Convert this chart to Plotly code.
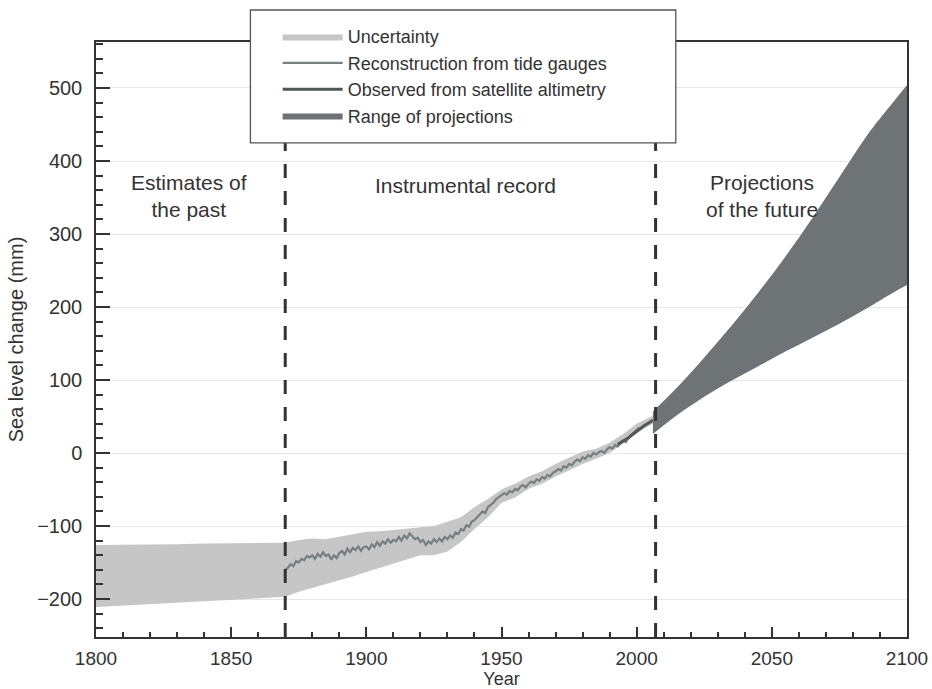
import plotly.graph_objects as go

# ---------------- data ----------------
band_years = [1800, 1810, 1820, 1830, 1840, 1850, 1860, 1870, 1875, 1880, 1885, 1890, 1895,
              1900, 1905, 1910, 1915, 1920, 1925, 1930, 1935, 1940, 1945, 1950, 1955, 1960,
              1965, 1970, 1975, 1980, 1985, 1990, 1995, 2000, 2006]
band_upper = [-126, -126, -125, -125, -124, -124, -124, -123, -119, -117, -118, -115, -112,
              -108, -107, -105, -104, -101, -100, -94, -88, -74, -63, -50, -42, -32,
              -25, -15, -7, 2, 6, 14, 26, 40, 51]
band_lower = [-211, -209, -207, -205, -203, -201, -199, -197, -190, -185, -180, -174, -169,
              -163, -157, -151, -146, -140, -140, -135, -122, -104, -88, -68, -61, -49,
              -42, -32, -24, -15, -8, 0, 13, 28, 40]

tide_years = list(range(1870, 2002))
tide_values = [
    -160, -157, -152, -155, -148, -150, -145, -147, -141, -143,
    -140, -145, -138, -142, -136, -141, -139, -146, -140, -144,
    -137, -134, -139, -131, -136, -130, -133, -128, -134, -129,
    -128, -132, -125, -129, -122, -127, -121, -124, -118, -123,
    -119, -121, -115, -120, -113, -117, -110, -114, -118, -116,
    -122, -119, -126, -121, -124, -118, -122, -117, -121, -115,
    -118, -113, -116, -109, -111, -104, -106, -99, -101, -94,
    -92, -88, -84, -80, -82, -74, -71, -68, -63, -60,
    -58, -55, -57, -52, -54, -49, -51, -46, -44, -47,
    -42, -39, -41, -36, -38, -33, -35, -30, -32, -27,
    -25, -22, -24, -18, -20, -15, -17, -12, -9, -11,
    -6, -8, -3, -5, 0, -2, 1, 3, 0, 5,
    8, 6, 11, 9, 14, 17, 15, 21, 25, 28,
    32, 35]

sat_years = list(range(1993, 2007))
sat_values = [12, 14, 17, 19, 21, 24, 27, 29, 32, 35, 38, 40, 43, 45]

proj_years = [2006, 2015, 2025, 2035, 2045, 2055, 2065, 2075, 2085, 2095, 2100]
proj_upper = [57, 90, 131, 174, 220, 269, 322, 378, 434, 481, 504]
proj_lower = [26, 52, 77, 99, 119, 139, 158, 177, 198, 220, 230]

era_bounds = [1870, 2007]
era_labels = ["Estimates of<br>the past", "Instrumental record", "Projections<br>of the future"]
era_label_x = [1834.5, 1936.5, 2046.5]
era_label_y = [352, 367, 352]

x_ticks = [1800, 1850, 1900, 1950, 2000, 2050, 2100]
y_ticks = [-200, -100, 0, 100, 200, 300, 400, 500]
y_tick_text = ["\u2212200", "\u2212100", "0", "100", "200", "300", "400", "500"]

# ---------------- styles ----------------
FONT = "Liberation Sans, Arial, Helvetica, sans-serif"
INK = "#333333"
BAND = "#c6c6c6"
TIDE = "#748080"
SAT = "#4f5757"
PROJ = "#6e7375"

fig = go.Figure()

fig.add_trace(go.Scatter(x=band_years, y=band_lower, mode="lines", line=dict(width=0),
                         showlegend=False, hoverinfo="skip"))
fig.add_trace(go.Scatter(x=band_years, y=band_upper, mode="lines", line=dict(width=0),
                         fill="tonexty", fillcolor=BAND, name="Uncertainty"))
fig.add_trace(go.Scatter(x=tide_years, y=tide_values, mode="lines",
                         line=dict(color=TIDE, width=2.2), name="Reconstruction from tide gauges"))
fig.add_trace(go.Scatter(x=sat_years, y=sat_values, mode="lines",
                         line=dict(color=SAT, width=3), name="Observed from satellite altimetry"))
fig.add_trace(go.Scatter(x=proj_years, y=proj_lower, mode="lines",
                         line=dict(width=0, shape="spline"),
                         showlegend=False, hoverinfo="skip"))
fig.add_trace(go.Scatter(x=proj_years, y=proj_upper, mode="lines",
                         line=dict(width=0, shape="spline"),
                         fill="tonexty", fillcolor=PROJ, name="Range of projections"))

for xb in era_bounds:
    fig.add_shape(type="line", xref="x", yref="paper", x0=xb, x1=xb, y0=0, y1=1,
                  line=dict(color=INK, width=3, dash="14px,13px"), layer="above")

# legend box (white panel over the frame)
fig.add_shape(type="rect", xref="paper", yref="paper", x0=0.1904, x1=0.7149, y0=0.8303, y1=1.0538,
              line=dict(color="#555555", width=1.3), fillcolor="white", layer="above")

for txt, lx, ly in zip(era_labels, era_label_x, era_label_y):
    fig.add_annotation(x=lx, y=ly, xref="x", yref="y", text=txt, showarrow=False,
                       font=dict(family=FONT, size=21, color=INK), align="center")

fig.update_layout(
    width=932, height=689,
    margin=dict(l=96, r=25, t=42, b=52),
    paper_bgcolor="white", plot_bgcolor="white",
    font=dict(family=FONT, size=20, color=INK),
    legend=dict(x=0.224, y=1.040, xanchor="left", yanchor="top", bgcolor="rgba(0,0,0,0)",
                borderwidth=0, font=dict(family=FONT, size=18, color=INK),
                itemwidth=60, tracegroupgap=0, traceorder="normal"),
    showlegend=True,
)

fig.update_xaxes(range=[1800, 2100], tickvals=x_ticks, ticks="inside", ticklen=10, tickwidth=1.5,
                 tickcolor=INK, showline=True, linecolor=INK, linewidth=1.5, mirror=True,
                 showgrid=False, zeroline=False,
                 minor=dict(dtick=10, ticks="inside", ticklen=5, tickcolor=INK, tickwidth=1.5, showgrid=False),
                 tickfont=dict(family=FONT, size=19, color=INK), ticklabelstandoff=3,
                 title=dict(text="Year", font=dict(family=FONT, size=18, color=INK), standoff=0),
                 automargin=False)
fig.update_yaxes(range=[-252, 563], tickvals=y_ticks, ticktext=y_tick_text, ticks="inside",
                 ticklen=14, tickwidth=1.5, tickcolor=INK, showline=True, linecolor=INK,
                 linewidth=1.5, mirror=True, showgrid=True, gridcolor="#e6e6e6", gridwidth=1,
                 zeroline=False,
                 minor=dict(dtick=20, tick0=0, ticks="inside", ticklen=7, tickcolor=INK, tickwidth=1.5,
                            showgrid=False),
                 tickfont=dict(family=FONT, size=20, color=INK), ticklabelstandoff=8,
                 title=dict(text="Sea level change (mm)", font=dict(family=FONT, size=20, color=INK),
                            standoff=8),
                 automargin=False)

fig.write_html("out.html")
